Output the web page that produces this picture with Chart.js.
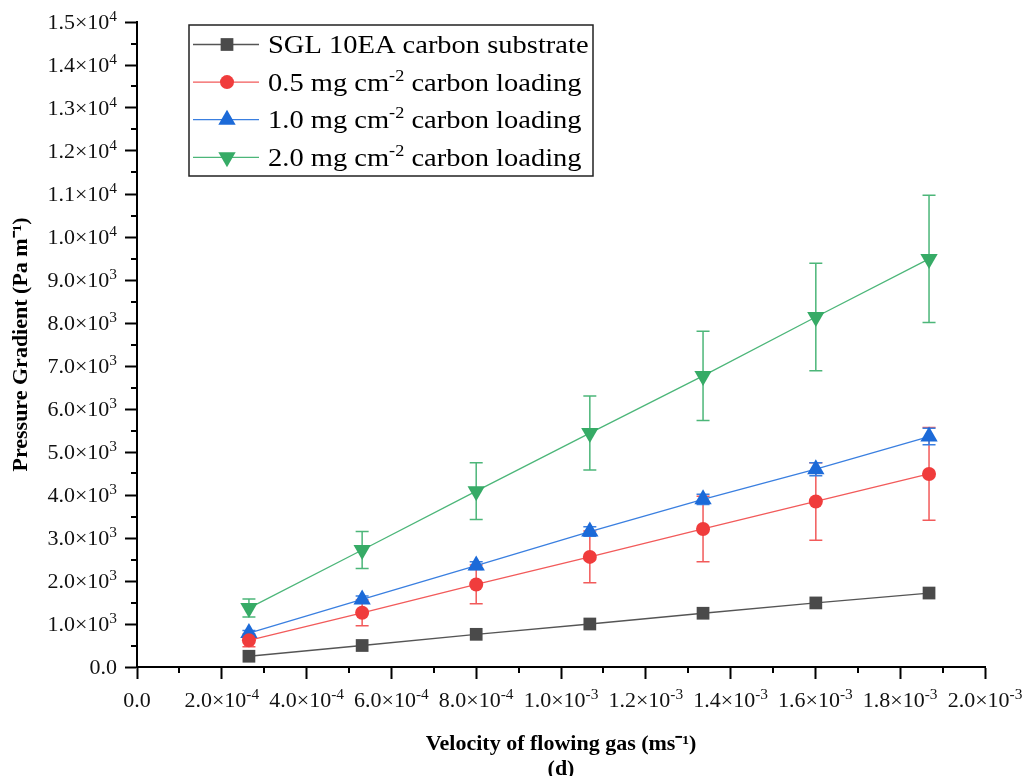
<!DOCTYPE html>
<html><head><meta charset="utf-8">
<script src="https://cdn.jsdelivr.net/npm/chart.js@4.4.0/dist/chart.umd.min.js"></script>
<style>html,body{margin:0;padding:0;background:#fff;}canvas{display:block;}</style>
</head><body>
<canvas id="c" width="1024" height="776"></canvas>
<script>
// ---- data ----
const velocity = [2.64e-4, 5.31e-4, 8.0e-4, 1.068e-3, 1.335e-3, 1.601e-3, 1.868e-3];
const sglSubstrate = [250, 500, 760, 1000, 1250, 1490, 1720];
const loading05 = [620, 1260, 1920, 2560, 3210, 3850, 4490];
const loading05Err = [150, 300, 450, 600, 760, 900, 1080];
const loading10 = [790, 1570, 2360, 3150, 3900, 4600, 5360];
const loading10Err = [60, 80, 90, 110, 120, 150, 190];
const loading20 = [1370, 2720, 4090, 5440, 6770, 8140, 9490];
const loading20Err = [210, 430, 660, 860, 1040, 1250, 1480];

const seriesLabels = ['SGL 10EA carbon substrate', '0.5 mg cm⁻² carbon loading', '1.0 mg cm⁻² carbon loading', '2.0 mg cm⁻² carbon loading'];
// legend text: '^' marks the superscript part
const legendTexts = ['SGL 10EA carbon substrate', '0.5 mg cm^-2^ carbon loading', '1.0 mg cm^-2^ carbon loading', '2.0 mg cm^-2^ carbon loading'];

const xTickValues = [0, 2e-4, 4e-4, 6e-4, 8e-4, 1e-3, 1.2e-3, 1.4e-3, 1.6e-3, 1.8e-3, 2e-3];
const xTickLabels = ['0.0', '2.0×10^-4', '4.0×10^-4', '6.0×10^-4', '8.0×10^-4', '1.0×10^-3', '1.2×10^-3', '1.4×10^-3', '1.6×10^-3', '1.8×10^-3', '2.0×10^-3'];
const xMinorTicks = [1e-4, 3e-4, 5e-4, 7e-4, 9e-4, 1.1e-3, 1.3e-3, 1.5e-3, 1.7e-3, 1.9e-3];
const yTickValues = [0, 1000, 2000, 3000, 4000, 5000, 6000, 7000, 8000, 9000, 10000, 11000, 12000, 13000, 14000, 15000];
const yTickLabels = ['0.0', '1.0×10^3', '2.0×10^3', '3.0×10^3', '4.0×10^3', '5.0×10^3', '6.0×10^3', '7.0×10^3', '8.0×10^3', '9.0×10^3', '1.0×10^4', '1.1×10^4', '1.2×10^4', '1.3×10^4', '1.4×10^4', '1.5×10^4'];
const yMinorTicks = [500, 1500, 2500, 3500, 4500, 5500, 6500, 7500, 8500, 9500, 10500, 11500, 12500, 13500, 14500];

const xTitle = ['Velocity of flowing gas (ms⁻¹)', '(d)'];
const yTitle = 'Pressure Gradient (Pa m⁻¹)';

// ---- styling ----
const SERIF = "'Liberation Serif', 'Times New Roman', serif";
const colors = ['#4a4a4a', '#f03c3c', '#1c6ad8', '#36ab66'];
const lineColors = ['#555555', '#f25a5a', '#3a7fe0', '#4cb679'];
const shapes = ['rect', 'circle', 'triangle', 'triangle'];
const rotations = [0, 0, 0, 180];
const radii = [9, 7, 10, 10];

function pts(ys) { return velocity.map((v, i) => ({x: v, y: ys[i]})); }
const seriesValues = [sglSubstrate, loading05, loading10, loading20];
const seriesErrors = [null, loading05Err, loading10Err, loading20Err];

const datasets = seriesValues.map((vals, i) => ({
  label: seriesLabels[i],
  data: pts(vals),
  errors: seriesErrors[i],
  borderColor: lineColors[i],
  backgroundColor: colors[i],
  pointBackgroundColor: colors[i],
  pointBorderColor: colors[i],
  pointBorderWidth: 0,
  pointStyle: shapes[i],
  pointRotation: rotations[i],
  pointRadius: radii[i],
  pointHoverRadius: radii[i],
  borderWidth: 1.3,
  tension: 0,
  fill: false
}));

// draw text with '^...^' superscript segments, horizontally stretched
function drawRich(ctx, text, x, y, align, baseSize, supSize, supRise, stretch, weight) {
  const segs = text.split('^');
  const w = weight ? weight + ' ' : '';
  const widths = segs.map((s, k) => { ctx.font = w + (k % 2 ? supSize : baseSize) + 'px ' + SERIF; return ctx.measureText(s).width; });
  const total = widths.reduce((a, b) => a + b, 0) * stretch;
  const x0 = align === 'right' ? x - total : align === 'center' ? x - total / 2 : x;
  ctx.save();
  ctx.translate(x0, y); ctx.scale(stretch, 1);
  ctx.textAlign = 'left'; ctx.textBaseline = 'alphabetic';
  let cx = 0;
  segs.forEach((s, k) => {
    ctx.font = w + (k % 2 ? supSize : baseSize) + 'px ' + SERIF;
    ctx.fillText(s, cx, k % 2 ? -supRise : 0);
    cx += widths[k];
  });
  ctx.restore();
}

const errorBarPlugin = {
  id: 'errorBars',
  beforeDatasetsDraw(chart) {
    const ctx = chart.ctx, xs = chart.scales.x, ys = chart.scales.y;
    chart.data.datasets.forEach((ds, i) => {
      if (!ds.errors) return;
      ctx.save();
      ctx.strokeStyle = lineColors[i];
      ctx.lineWidth = 1.5;
      ds.data.forEach((p, j) => {
        const e = ds.errors[j];
        const px = xs.getPixelForValue(p.x);
        const top = ys.getPixelForValue(p.y + e), bot = ys.getPixelForValue(p.y - e);
        ctx.beginPath();
        ctx.moveTo(px, top); ctx.lineTo(px, bot);
        ctx.moveTo(px - 6.5, top); ctx.lineTo(px + 6.5, top);
        ctx.moveTo(px - 6.5, bot); ctx.lineTo(px + 6.5, bot);
        ctx.stroke();
      });
      ctx.restore();
    });
  }
};

const axisDecorPlugin = {
  id: 'axisDecor',
  afterDraw(chart) {
    const ctx = chart.ctx, xs = chart.scales.x, ys = chart.scales.y, a = chart.chartArea;
    ctx.save();
    ctx.strokeStyle = '#000'; ctx.lineWidth = 2;
    ctx.beginPath();
    yMinorTicks.forEach(v => { const y = Math.round(ys.getPixelForValue(v)); ctx.moveTo(a.left - 6, y); ctx.lineTo(a.left, y); });
    xMinorTicks.forEach(v => { const x = Math.round(xs.getPixelForValue(v)); ctx.moveTo(x, a.bottom); ctx.lineTo(x, a.bottom + 6); });
    ctx.stroke();
    ctx.fillStyle = '#111';
    yTickValues.forEach((v, i) => {
      drawRich(ctx, yTickLabels[i], a.left - 20, ys.getPixelForValue(v) + 6.5, 'right', 20, 14, 8, 1.1);
    });
    xTickValues.forEach((v, i) => {
      drawRich(ctx, xTickLabels[i], xs.getPixelForValue(v), a.bottom + 40, 'center', 20, 14, 8, 1.1);
    });
    ctx.restore();
  }
};

function drawMarker(ctx, shape, rot, x, y, r, color) {
  ctx.save();
  ctx.fillStyle = color;
  ctx.beginPath();
  if (shape === 'rect') {
    const s = Math.SQRT1_2 * r;
    ctx.rect(x - s, y - s, 2 * s, 2 * s);
  } else if (shape === 'circle') {
    ctx.arc(x, y, r, 0, Math.PI * 2);
  } else {
    let rad = rot * Math.PI / 180;
    for (let k = 0; k < 3; k++) {
      const px = x + Math.sin(rad) * r, py = y - Math.cos(rad) * r;
      if (k === 0) ctx.moveTo(px, py); else ctx.lineTo(px, py);
      rad += 2 * Math.PI / 3;
    }
    ctx.closePath();
  }
  ctx.fill();
  ctx.restore();
}

const boxLegendPlugin = {
  id: 'boxLegend',
  afterDraw(chart) {
    const ctx = chart.ctx, a = chart.chartArea;
    const bx = a.left + 52, by = a.top + 3, bw = 404, bh = 151;
    ctx.save();
    ctx.fillStyle = '#fff';
    ctx.fillRect(bx, by, bw, bh);
    ctx.strokeStyle = '#222'; ctx.lineWidth = 1.5;
    ctx.strokeRect(bx, by, bw, bh);
    legendTexts.forEach((t, i) => {
      const ry = by + 19.5 + i * 37.6;
      ctx.strokeStyle = lineColors[i]; ctx.lineWidth = 1.3;
      ctx.beginPath(); ctx.moveTo(bx + 4, ry); ctx.lineTo(bx + 70, ry); ctx.stroke();
      drawMarker(ctx, shapes[i], rotations[i], bx + 38, ry, radii[i], colors[i]);
      ctx.fillStyle = '#000';
      drawRich(ctx, t, bx + 79, ry + 8.5, 'left', 25, 16, 10, 1.14);
    });
    ctx.restore();
  }
};

new Chart(document.getElementById('c'), {
  type: 'line',
  data: { datasets },
  plugins: [errorBarPlugin, axisDecorPlugin, boxLegendPlugin],
  options: {
    responsive: false,
    animation: false,
    layout: { padding: { top: 22, right: 39, left: 0, bottom: 0 } },
    plugins: { legend: { display: false }, tooltip: { enabled: false } },
    scales: {
      x: {
        type: 'linear', min: 0, max: 0.002,
        afterBuildTicks: s => { s.ticks = xTickValues.map(v => ({value: v})); },
        afterFit: s => { s.height = 109; s.paddingLeft = 0; s.paddingRight = 0; },
        border: { display: true, color: '#000', width: 2 },
        grid: { drawOnChartArea: false, drawTicks: true, tickLength: 12, tickWidth: 2, tickColor: '#000' },
        ticks: { display: false },
        title: { display: true, text: xTitle, color: '#000',
          font: { family: SERIF, size: 22, weight: 'bold', lineHeight: '25px' },
          padding: { top: 0, bottom: -6 } }
      },
      y: {
        type: 'linear', min: 0, max: 15000,
        afterBuildTicks: s => { s.ticks = yTickValues.map(v => ({value: v})); },
        afterFit: s => { s.width = 137; s.paddingTop = 0; s.paddingBottom = 0; },
        border: { display: true, color: '#000', width: 2 },
        grid: { drawOnChartArea: false, drawTicks: true, tickLength: 12, tickWidth: 2, tickColor: '#000' },
        ticks: { display: false },
        title: { display: true, text: yTitle, color: '#000',
          font: { family: SERIF, size: 22, weight: 'bold', lineHeight: 1.2 },
          padding: { top: 8, bottom: 0 } }
      }
    }
  }
});
</script>
</body></html>
